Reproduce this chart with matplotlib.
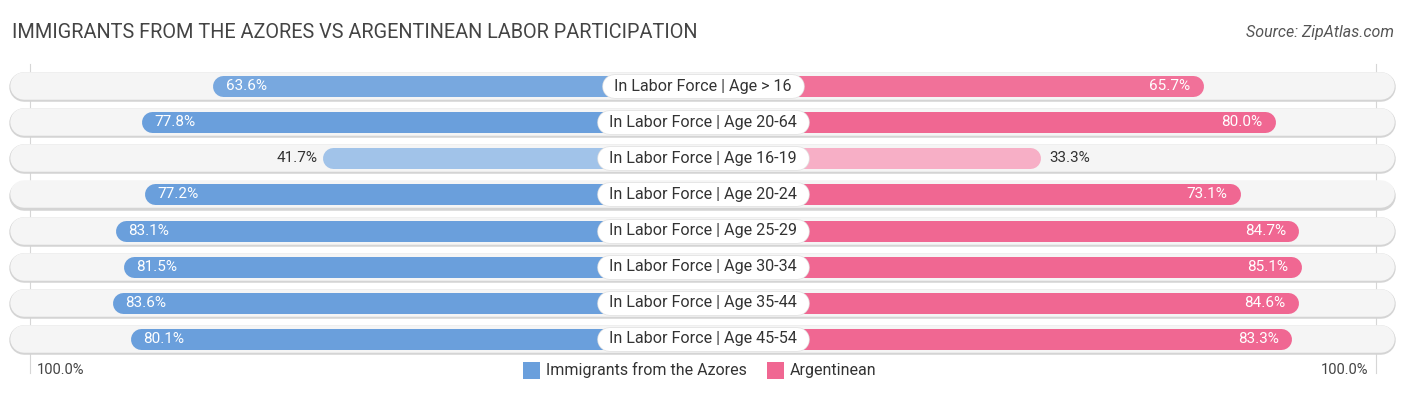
#!/usr/bin/env python3

import numpy as np
import matplotlib
matplotlib.use("Agg")
import matplotlib.pyplot as plt
from matplotlib.colors import to_rgb

plt.rcParams['font.family'] = ['Roboto', 'DejaVu Sans']

categories = ["In Labor Force | Age > 16", "In Labor Force | Age 20-64",
              "In Labor Force | Age 16-19", "In Labor Force | Age 20-24",
              "In Labor Force | Age 25-29", "In Labor Force | Age 30-34",
              "In Labor Force | Age 35-44", "In Labor Force | Age 45-54"]
azores = [63.6, 77.8, 41.7, 77.2, 83.1, 81.5, 83.6, 80.1]
argentinean = [65.7, 80.0, 33.3, 73.1, 84.7, 85.1, 84.6, 83.3]
series_names = ["Immigrants from the Azores", "Argentinean"]

BLUE = "#6a9fdc"
PINK = "#f06792"
OFF = 34.0          # half-width of the centre gap, in percent units
PX = 5.0            # pixels per percent unit
PT = 0.72           # points per pixel at dpi 100


def shade(color, v):
    t = 0.52 + 0.48 * np.clip((v - 33) / 38, 0, 1)
    c = np.array(to_rgb(color))
    return tuple(1 - t * (1 - c))


fig = plt.figure(figsize=(14.06, 3.95), dpi=100)
ax = fig.add_axes([0, 0, 1, 1])
ax.set_xlim(-OFF - 100 - 30 / PX, OFF + 100 + 30 / PX)
ax.set_ylim(7 + 56 / 36.14, -86 / 36.14)
ax.axis("off")
renderer = fig.canvas.get_renderer()

lim = OFF + 100
# gridlines at 100%
for x in (-lim, lim):
    ax.plot([x, x], [-0.6, 7.95], color="#d6d6d6", lw=0.8, zorder=0)

tr = 14.5 / PX   # track cap radius in x units
br = 10.5 / PX   # bar cap radius
for i, (cat, a, b) in enumerate(zip(categories, azores, argentinean)):
    # track
    ax.plot([-138.2 + tr, 138 - tr], [i + 0.03, i + 0.03], color="#d4d4d4",
            lw=29.5 * PT, solid_capstyle="round", zorder=1)
    ax.plot([-138.2 + tr, 138 - tr], [i, i], color="#f5f5f5",
            lw=27.5 * PT, solid_capstyle="round", zorder=1)
    # bars
    ax.plot([-OFF - a + br, 0], [i, i], color=shade(BLUE, a),
            lw=21 * PT, solid_capstyle="round", zorder=2)
    ax.plot([0, OFF + b - br], [i, i], color=shade(PINK, b),
            lw=21 * PT, solid_capstyle="round", zorder=2)
    # value labels
    if a > 50:
        ax.text(-OFF - a + 13 / PX, i, f"{a:.1f}%", color="white",
                ha="left", va="center", fontsize=11, zorder=4)
    else:
        ax.text(-OFF - a - 5 / PX, i, f"{a:.1f}%", color="#333333",
                ha="right", va="center", fontsize=11, zorder=4)
    if b > 50:
        ax.text(OFF + b - 13 / PX, i, f"{b:.1f}%", color="white",
                ha="right", va="center", fontsize=11, zorder=4)
    else:
        ax.text(OFF + b + 8 / PX, i, f"{b:.1f}%", color="#333333",
                ha="left", va="center", fontsize=11, zorder=4)
    # category label on a white pill
    t = ax.text(0, i, cat, ha="center", va="center", fontsize=11.6,
                color="#333333", zorder=6)
    half = t.get_window_extent(renderer).width / 2 / PX
    ax.plot([-half, half], [i, i], color="#e2e2e2", lw=24.5 * PT,
            solid_capstyle="round", zorder=4.9)
    ax.plot([-half, half], [i, i], color="white", lw=23 * PT,
            solid_capstyle="round", zorder=5)

# axis end labels
ax.text(-lim + 7 / PX, 7.85, "100.0%", ha="left", va="center",
        fontsize=10.5, color="#444444")
ax.text(lim - 8 / PX, 7.85, "100.0%", ha="right", va="center",
        fontsize=10.5, color="#444444")

# legend
fig.patches.append(plt.Rectangle((523 / 1406, 1 - 379 / 395), 17 / 1406, 17 / 395,
                                 transform=fig.transFigure, fc=BLUE, ec="none"))
fig.text(546 / 1406, 1 - 370 / 395, series_names[0], ha="left", va="center",
         fontsize=11.5, color="#333333")
fig.patches.append(plt.Rectangle((767 / 1406, 1 - 379 / 395), 17 / 1406, 17 / 395,
                                 transform=fig.transFigure, fc=PINK, ec="none"))
fig.text(790 / 1406, 1 - 370 / 395, series_names[1], ha="left", va="center",
         fontsize=11.5, color="#333333")

fig.text(12 / 1406, 1 - 33 / 395,
         "IMMIGRANTS FROM THE AZORES VS ARGENTINEAN LABOR PARTICIPATION",
         ha="left", va="center", fontsize=14.3, color="#444444")
fig.text(1394 / 1406, 1 - 33 / 395, "Source: ZipAtlas.com", ha="right",
         va="center", fontsize=11.5, color="#555555", style="italic")

fig.savefig("out.png", dpi=100)
